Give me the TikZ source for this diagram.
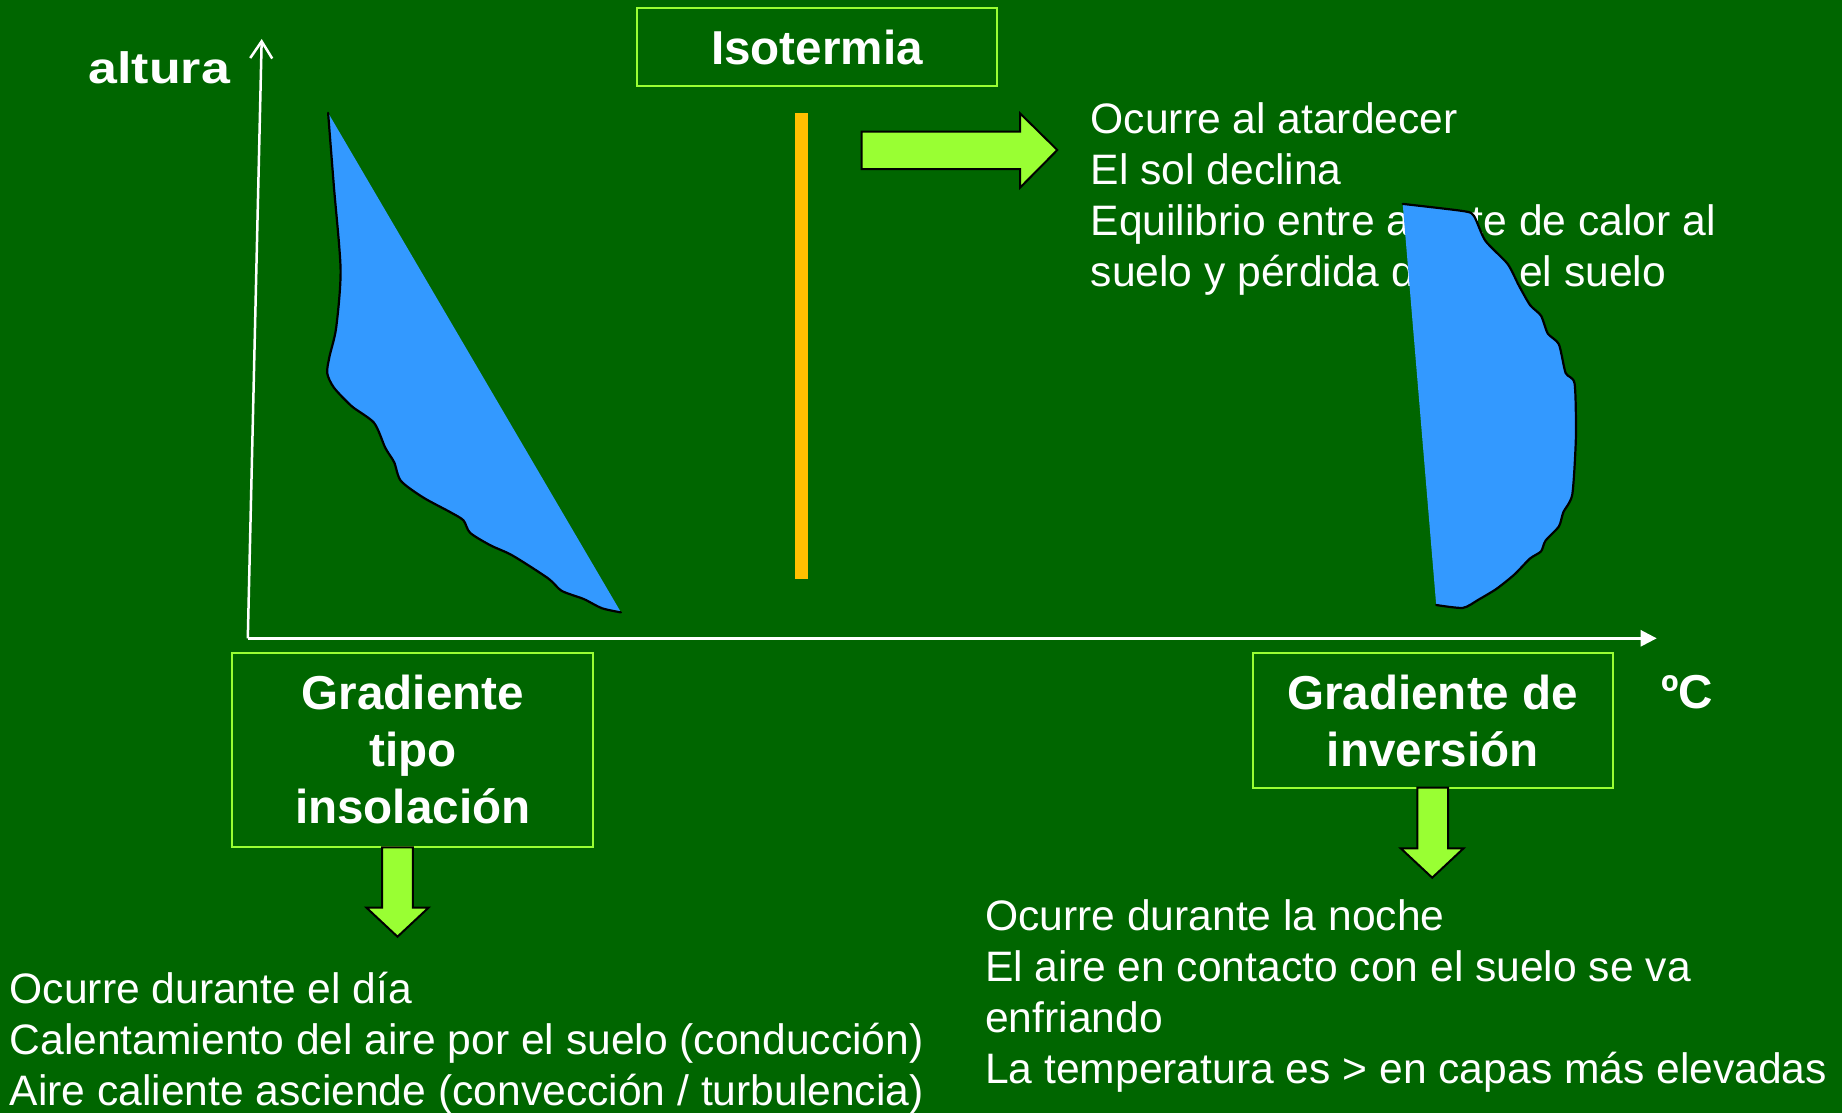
\documentclass[tikz,border=0pt]{standalone}
\usepackage{fontspec}
\setmainfont{Liberation Sans}
\usetikzlibrary{arrows.meta}
\definecolor{bggreen}{HTML}{006600}
\definecolor{lgreen}{HTML}{99FF33}
\definecolor{skyblue}{HTML}{3399FF}
\definecolor{barcol}{HTML}{FFC000}
\tikzset{
  bodytext/.style={anchor=base west, inner sep=0pt, text=white, align=left,
    font=\fontsize{42.6}{51}\selectfont},
  tbox/.style={draw=lgreen, line width=2pt, inner sep=0pt, text=white, align=center,
    font=\bfseries\fontsize{47.6}{57}\selectfont},
  blockarrow/.style={fill=lgreen, draw=black, line width=2pt, line join=miter},
  blobfill/.style={fill=skyblue},
  blobedge/.style={draw=black, line width=2.2pt, line join=round, line cap=round},
  axisline/.style={draw=white, line width=2.5pt}
}
\begin{document}
\begin{tikzpicture}[x=1pt, y=-1pt]
\fill[bggreen] (0,0) rectangle (1842,1113);
\useasboundingbox (0,0) rectangle (1842,1113);
\node[bodytext] (tr) at (1090.5,286.7) {Ocurre al atardecer\\El sol declina\\Equilibrio entre aporte de calor al\\suelo y pérdida desde el suelo};
\coordinate (O) at (247.8,638.3);
\coordinate (Ytop) at (261.7,39);
\coordinate (Xend) at (1656.7,638.3);
\draw[axisline, -{Straight Barb[length=17pt, width=22pt]}] (O) -- (Ytop);
\draw[axisline, -{Triangle[length=16pt, width=16pt]}] (O) -- (Xend);
\node[anchor=base west, inner sep=0pt, text=white, font=\bfseries\fontsize{44}{50}\selectfont, xscale=1.18, transform shape] (alt) at (88.3,83.3) {altura};
\node[anchor=base west, inner sep=0pt, text=white, font=\bfseries\fontsize{47.6}{57}\selectfont] (deg) at (1661,708.3) {ºC};
\fill[blobfill] plot[smooth, tension=0.45] coordinates {(328.1,112.8) (333.9,186.6) (340.6,269.5) (336.2,327.5) (329.5,356.5) (327.2,373.1) (333.9,387.6) (351.8,406.3) (374.1,422.9) (385.3,447.8) (394.2,462.3) (400.9,480.9) (423.2,497.5) (450,512) (463.4,520.3) (470.1,532.8) (490.2,545.2) (512.5,555.5) (548.2,578.4) (561.6,590.8) (583.9,599.1) (601.8,608.2) (621,612.4)} -- cycle;
\draw[blobedge] plot[smooth, tension=0.45] coordinates {(328.1,112.8) (333.9,186.6) (340.6,269.5) (336.2,327.5) (329.5,356.5) (327.2,373.1) (333.9,387.6) (351.8,406.3) (374.1,422.9) (385.3,447.8) (394.2,462.3) (400.9,480.9) (423.2,497.5) (450,512) (463.4,520.3) (470.1,532.8) (490.2,545.2) (512.5,555.5) (548.2,578.4) (561.6,590.8) (583.9,599.1) (601.8,608.2) (621,612.4)};
\fill[barcol] (795,113) rectangle (808,579);
\fill[blobfill] plot[smooth, tension=0.4] coordinates {(1402.7,203.9) (1464,211.2) (1474,216) (1485.3,240.7) (1507.6,263.9) (1518.8,285.4) (1530,305) (1541,315.7) (1547.8,333.6) (1558.9,344.3) (1565.6,372.9) (1574.6,383.6) (1575.9,437) (1572.3,494.3) (1563.4,512) (1558.9,526.4) (1545.5,540.7) (1541,551.4) (1529.9,558.6) (1514.3,574.6) (1496.4,588.9) (1478.6,599.6) (1462.9,607.9) (1436.2,605)} -- cycle;
\draw[blobedge] plot[smooth, tension=0.4] coordinates {(1402.7,203.9) (1464,211.2) (1474,216) (1485.3,240.7) (1507.6,263.9) (1518.8,285.4) (1530,305) (1541,315.7) (1547.8,333.6) (1558.9,344.3) (1565.6,372.9) (1574.6,383.6) (1575.9,437) (1572.3,494.3) (1563.4,512) (1558.9,526.4) (1545.5,540.7) (1541,551.4) (1529.9,558.6) (1514.3,574.6) (1496.4,588.9) (1478.6,599.6) (1462.9,607.9) (1436.2,605)};
\node[tbox, minimum width=360.6pt, minimum height=77.6pt] (iso) at (817,47) {Isotermia};
\node[tbox, minimum width=360.8pt, minimum height=194pt] (ins) at (412.8,749.7) {Gradiente\\tipo\\insolación};
\node[tbox, minimum width=359.9pt, minimum height=135.6pt] (inv) at (1432.6,720.5) {Gradiente de\\inversión};
\draw[blockarrow] (861.7,131.7) -- (1020,131.7) -- (1020,113.3) -- (1057.3,150) -- (1020,187.7) -- (1020,169) -- (861.7,169) -- cycle;
\draw[blockarrow] (382.2,847.3) -- (412.8,847.3) -- (412.8,907.7) -- (428.5,907.7) -- (397.5,936.7) -- (366.5,907.7) -- (382.2,907.7) -- cycle;
\draw[blockarrow] (1417.4,787.7) -- (1448,787.7) -- (1448,848.3) -- (1463.6,848.3) -- (1432.2,877.7) -- (1400.7,848.3) -- (1417.4,848.3) -- cycle;
\node[bodytext] (bl) at (9.5,1105) {Ocurre durante el día\\Calentamiento del aire por el suelo (conducción)\\Aire caliente asciende (convección / turbulencia)};
\node[bodytext] (br) at (985,1083.3) {Ocurre durante la noche\\El aire en contacto con el suelo se va\\enfriando\\La temperatura es > en capas más elevadas};
\end{tikzpicture}
\end{document}
